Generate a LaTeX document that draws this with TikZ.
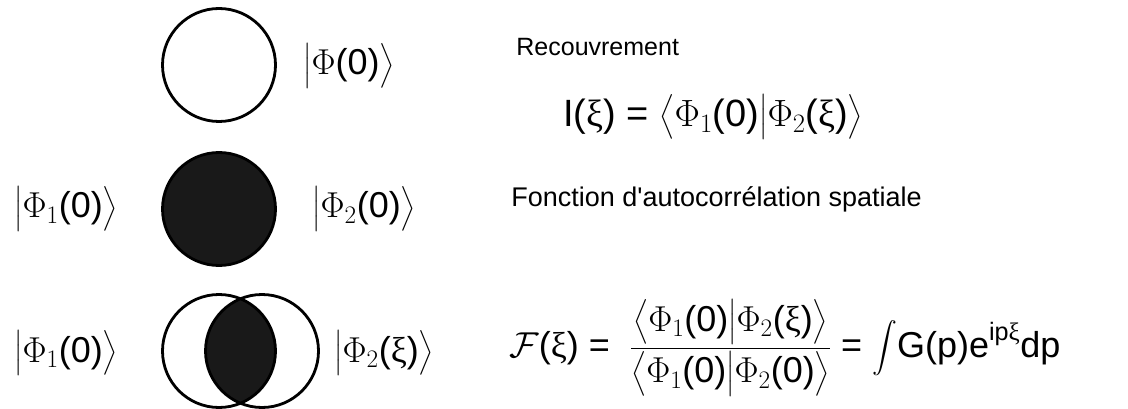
\documentclass[tikz,border=0pt]{standalone}
\usepackage{fix-cm}
\usepackage{amsmath}
\usepackage{fontspec}
\setmainfont{Liberation Sans}
\newfontfamily\grk{Liberation Serif}
\newcommand{\ket}[1]{\bigl|#1\bigr\rangle}
\newcommand{\brket}[2]{\bigl\langle#1\bigr|#2\bigr\rangle}
\newcommand{\xii}{\text{\grk ξ}}
\newcommand{\tz}{\text{(0)}}
\newcommand{\tx}{\text{(}\xii\text{)}}
\newcommand{\eq}{\mathrel{\text{=}}}

\begin{document}
\begin{tikzpicture}[x=1pt, y=-1pt, line width=2.8pt]
  \tikzset{
    ketlabel/.style={anchor=west, inner sep=0pt, font=\fontsize{36}{40}\selectfont},
    caption/.style={anchor=base west, inner sep=0pt, font=\fontsize{25}{29}\selectfont},
    overlap/.style={fill=black!90},
  }
  \useasboundingbox (0,0) rectangle (1128,409);
  \coordinate (S) at (219,65); \coordinate (D) at (219,209);
  \coordinate (L) at (219,351); \coordinate (R) at (262,351);
  % the three pictures of the wave packet
  \draw (S) circle[radius=56.5pt];
  \draw[overlap] (D) circle[radius=56.5pt];
  \begin{scope}
    \clip (L) circle[radius=56.5pt];
    \fill[overlap] (R) circle[radius=56.5pt];
  \end{scope}
  \draw (L) circle[radius=56.5pt];
  \draw (R) circle[radius=56.5pt];
  % kets
  \node[ketlabel] (k0)  at (302,66)  {$\ket{\Phi\tz}$};
  \node[ketlabel] (k1a) at (13,209)  {$\ket{\Phi_1\tz}$};
  \node[ketlabel] (k2a) at (311,209) {$\ket{\Phi_2\tz}$};
  \node[ketlabel] (k1b) at (13,353)  {$\ket{\Phi_1\tz}$};
  \node[ketlabel] (k2b) at (333,353) {$\ket{\Phi_2\tx}$};
  % right hand side
  \node[caption] (rec) at (515,56) {Recouvrement};
  \node[ketlabel, font=\fontsize{38}{42}\selectfont] (ovl) at (562,117)
    {$\text{I}\tx \eq \brket{\Phi_1\tz}{\Phi_2\tx}$};
  \node[caption, font=\fontsize{27}{31}\selectfont] (fct) at (510,207)
    {Fonction d\textquotesingle autocorrélation spatiale};
  \node[ketlabel] (acf) at (508,348)
    {$\displaystyle\mathcal{F}\tx\eq\;\frac{\brket{\Phi_1\tz}{\Phi_2\tx}}{\brket{\Phi_1\tz}{\Phi_2\tz}}
      \eq \int\!\text{G(p)e}^{\text{ip}\xii}\text{dp}$};
\end{tikzpicture}
\end{document}
